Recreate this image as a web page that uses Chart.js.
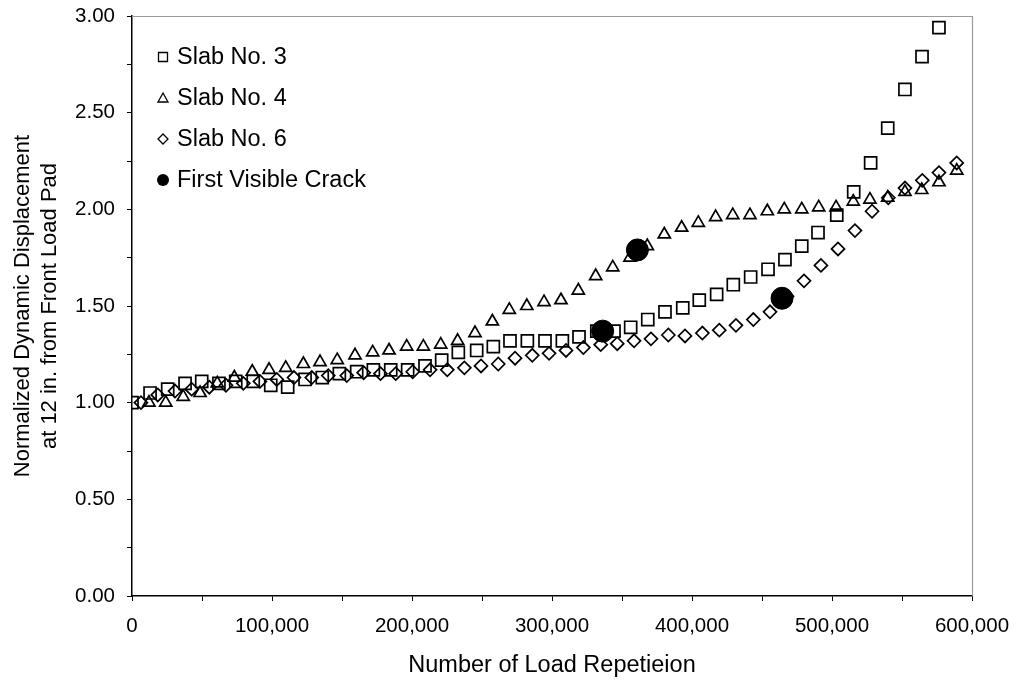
<!DOCTYPE html>
<html>
<head>
<meta charset="utf-8">
<script src="https://cdn.jsdelivr.net/npm/chart.js@4.4.1/dist/chart.umd.min.js"></script>
<style>
  html, body { margin: 0; padding: 0; background: #ffffff; }
  #wrap { width: 1016px; height: 681px; }
</style>
</head>
<body>
<div id="wrap"><canvas id="c" width="1016" height="681"></canvas></div>
<script>
// Load repetitions (x) and normalized displacement (y) for each slab
const slab3X = [0, 12900, 25500, 37900, 49800, 62100, 74100, 86600, 99100, 111200, 123600, 135900, 148100, 160500, 172400, 184800, 196900, 209300, 221200, 233100, 246200, 258100, 270000, 282400, 295000, 307400, 319300, 332000, 344300, 356200, 368400, 380700, 393400, 405200, 417600, 429500, 441900, 454300, 466400, 478400, 490000, 503400, 515500, 527600, 539800, 552100, 564300, 576400];
const slab3Y = [1.00, 1.05, 1.07, 1.10, 1.11, 1.10, 1.11, 1.11, 1.09, 1.08, 1.12, 1.13, 1.15, 1.16, 1.17, 1.17, 1.17, 1.19, 1.22, 1.26, 1.27, 1.29, 1.32, 1.32, 1.32, 1.32, 1.34, 1.37, 1.37, 1.39, 1.43, 1.47, 1.49, 1.53, 1.56, 1.61, 1.65, 1.69, 1.74, 1.81, 1.88, 1.97, 2.09, 2.24, 2.42, 2.62, 2.79, 2.94];

const slab4X = [12100, 24100, 36600, 48600, 60900, 73100, 85900, 97900, 109800, 122400, 134300, 146600, 159300, 171900, 183600, 196200, 208100, 220500, 232600, 245000, 257400, 269500, 282000, 294300, 306400, 318800, 331200, 343400, 355700, 368100, 380200, 392600, 404500, 416900, 429100, 441400, 453800, 465900, 478400, 490500, 502900, 515200, 527100, 539800, 552100, 564100, 576400, 589100];
const slab4Y = [1.00, 1.00, 1.03, 1.05, 1.10, 1.13, 1.16, 1.17, 1.18, 1.20, 1.21, 1.22, 1.245, 1.26, 1.27, 1.29, 1.29, 1.30, 1.32, 1.36, 1.42, 1.48, 1.50, 1.52, 1.53, 1.58, 1.655, 1.70, 1.75, 1.81, 1.87, 1.905, 1.93, 1.96, 1.97, 1.97, 1.99, 2.00, 2.00, 2.01, 2.01, 2.04, 2.05, 2.06, 2.09, 2.10, 2.14, 2.20];

const slab6X = [6400, 18400, 30700, 42600, 55200, 67100, 79500, 91400, 103400, 115700, 128400, 140200, 153400, 165500, 177500, 188400, 200500, 212900, 225200, 237400, 249300, 261600, 273600, 285900, 297900, 310000, 322400, 334800, 346600, 358600, 370700, 383100, 395000, 407400, 419500, 431400, 443800, 455700, 467900, 480000, 492100, 504300, 516400, 528600, 540200, 552100, 564500, 576400, 589100];
const slab6Y = [1.00, 1.04, 1.06, 1.07, 1.08, 1.09, 1.10, 1.11, 1.12, 1.13, 1.13, 1.14, 1.14, 1.155, 1.15, 1.15, 1.16, 1.17, 1.17, 1.18, 1.19, 1.20, 1.23, 1.245, 1.255, 1.27, 1.285, 1.30, 1.305, 1.32, 1.33, 1.35, 1.345, 1.36, 1.375, 1.40, 1.43, 1.47, 1.55, 1.63, 1.71, 1.795, 1.89, 1.99, 2.06, 2.11, 2.15, 2.19, 2.24];

// Points where the first visible crack was observed
const crackX = [336200, 361000, 464300];
const crackY = [1.37, 1.79, 1.54];

// Axis ranges and labels
const xMin = 0, xMax = 600000, xStep = 50000, xLabelStep = 100000;
const yMin = 0, yMax = 3, yStep = 0.25, yLabelStep = 0.5;
const xTitle = 'Number of Load Repetieion';
const yTitle = ['Normalized Dynamic Displacement', 'at 12 in. from Front Load Pad'];
const seriesNames = ['Slab No. 3', 'Slab No. 4', 'Slab No. 6', 'First Visible Crack'];

const FONT = '"Liberation Sans", Arial, sans-serif';

function toPoints(xs, ys) {
  return xs.map((x, i) => ({ x: x, y: ys[i] }));
}

// Gray frame on the top and right of the plotting area
const framePlugin = {
  id: 'frame',
  beforeDatasetsDraw(chart) {
    const { ctx, chartArea: a } = chart;
    ctx.save();
    ctx.strokeStyle = '#9a9a9a';
    ctx.lineWidth = 1.2;
    ctx.beginPath();
    ctx.moveTo(a.left, a.top + 0.5);
    ctx.lineTo(a.right + 0.5, a.top + 0.5);
    ctx.lineTo(a.right + 0.5, a.bottom);
    ctx.stroke();
    ctx.restore();
  }
};

// Legend drawn inside the plotting area, top-left
const insideLegend = {
  id: 'insideLegend',
  afterDraw(chart) {
    const { ctx, chartArea: a } = chart;
    const sx = a.left + 31;
    const tx = a.left + 45;
    const y0 = a.top + 41;
    const dy = 41;
    ctx.save();
    ctx.strokeStyle = '#000';
    ctx.fillStyle = '#000';
    ctx.lineWidth = 1.3;
    seriesNames.forEach((name, i) => {
      const y = y0 + i * dy;
      ctx.beginPath();
      if (i === 0) {
        ctx.rect(sx - 4.5, y - 4.5, 9, 9);
        ctx.stroke();
      } else if (i === 1) {
        ctx.moveTo(sx, y - 5);
        ctx.lineTo(sx + 5, y + 4);
        ctx.lineTo(sx - 5, y + 4);
        ctx.closePath();
        ctx.stroke();
      } else if (i === 2) {
        ctx.moveTo(sx, y - 5);
        ctx.lineTo(sx + 5, y);
        ctx.lineTo(sx, y + 5);
        ctx.lineTo(sx - 5, y);
        ctx.closePath();
        ctx.stroke();
      } else {
        ctx.arc(sx, y, 6, 0, Math.PI * 2);
        ctx.fill();
      }
      ctx.font = '23.5px ' + FONT;
      ctx.textBaseline = 'middle';
      ctx.textAlign = 'left';
      ctx.fillText(name, tx, y + 1);
    });
    ctx.restore();
  }
};

const ctx = document.getElementById('c').getContext('2d');
new Chart(ctx, {
  type: 'scatter',
  data: {
    datasets: [
      {
        label: seriesNames[3],
        data: toPoints(crackX, crackY),
        pointStyle: 'circle',
        pointRadius: 11,
        backgroundColor: '#000',
        borderColor: '#000',
        borderWidth: 1,
        order: -1
      },
      {
        label: seriesNames[0],
        data: toPoints(slab3X, slab3Y),
        pointStyle: 'rect',
        pointRadius: 8.5,
        backgroundColor: 'rgba(0,0,0,0)',
        borderColor: '#000',
        borderWidth: 1.7
      },
      {
        label: seriesNames[1],
        data: toPoints(slab4X, slab4Y),
        pointStyle: 'triangle',
        pointRadius: 7,
        backgroundColor: 'rgba(0,0,0,0)',
        borderColor: '#000',
        borderWidth: 1.7
      },
      {
        label: seriesNames[2],
        data: toPoints(slab6X, slab6Y),
        pointStyle: 'rectRot',
        pointRadius: 6.5,
        backgroundColor: 'rgba(0,0,0,0)',
        borderColor: '#000',
        borderWidth: 1.7
      }
    ]
  },
  options: {
    responsive: false,
    animation: false,
    devicePixelRatio: 1,
    layout: { padding: { left: 0, right: 44, top: 16, bottom: 0 } },
    plugins: {
      legend: { display: false },
      tooltip: { enabled: false }
    },
    scales: {
      x: {
        type: 'linear',
        min: xMin,
        max: xMax,
        afterFit: (s) => { s.height = 85; s.paddingLeft = 0; s.paddingRight = 0; },
        border: { display: true, color: '#000', width: 1.5 },
        grid: { display: true, drawOnChartArea: false, drawTicks: true, tickLength: 5, color: '#000', lineWidth: 1 },
        ticks: {
          stepSize: xStep,
          autoSkip: false,
          maxRotation: 0,
          padding: 13,
          color: '#000',
          font: { family: FONT, size: 20.5 },
          callback: (v) => (v % xLabelStep === 0 ? v.toLocaleString('en-US') : '')
        },
        title: {
          display: true,
          text: xTitle,
          color: '#000',
          font: { family: FONT, size: 23.5 },
          padding: { top: 4, bottom: 1 }
        }
      },
      y: {
        type: 'linear',
        min: yMin,
        max: yMax,
        afterFit: (s) => { s.width = 132; s.paddingTop = 0; s.paddingBottom = 0; },
        border: { display: true, color: '#000', width: 1.5 },
        grid: { display: true, drawOnChartArea: false, drawTicks: true, tickLength: 5, color: '#000', lineWidth: 1 },
        ticks: {
          stepSize: yStep,
          autoSkip: false,
          padding: 12,
          color: '#000',
          font: { family: FONT, size: 20.5 },
          callback: (v) => (Math.abs(v / yLabelStep - Math.round(v / yLabelStep)) < 1e-9 ? v.toFixed(2) : '')
        },
        title: {
          display: true,
          text: yTitle,
          color: '#000',
          font: { family: FONT, size: 22, lineHeight: 1.2 },
          padding: { top: 10, bottom: 0 }
        }
      }
    }
  },
  plugins: [framePlugin, insideLegend]
});
</script>
</body>
</html>
